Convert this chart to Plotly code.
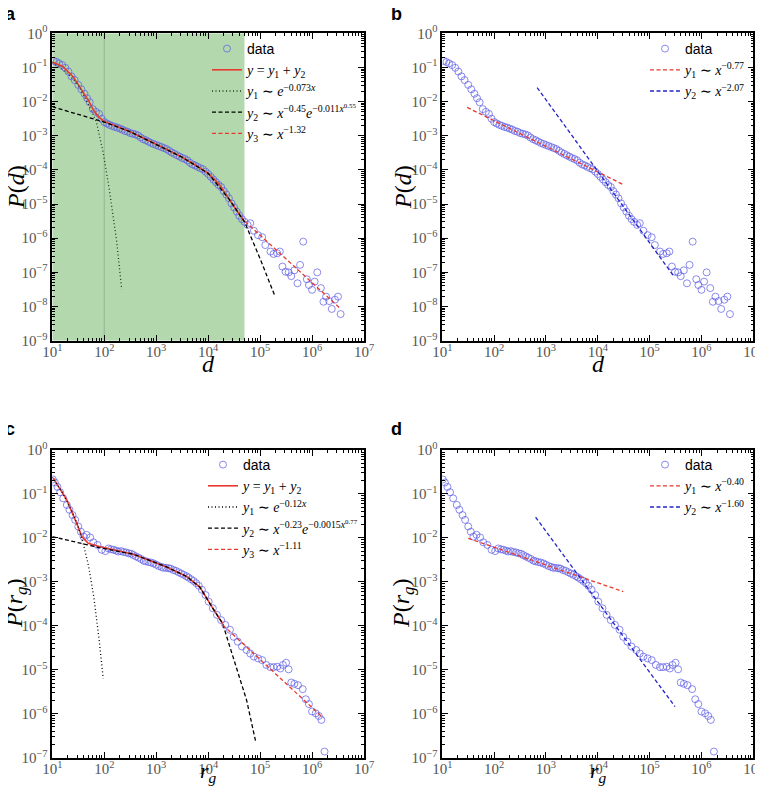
import numpy as np
import plotly.graph_objects as go

# the browser window is 763x787 and the page body keeps its default 8px margin
WIN_W, WIN_H, BODY = 763, 787, 8
W, H = WIN_W - BODY, WIN_H - BODY

# Displacement d data (panels a and b): log10(d) and log10(P(d))
d_logx = [1.03, 1.08, 1.13, 1.19, 1.25, 1.31, 1.37, 1.43, 1.50, 1.56, 1.62, 1.67, 1.72, 1.78,
          1.84, 1.90, 1.95, 2.00, 2.05, 2.10, 2.15, 2.20, 2.25, 2.30, 2.35, 2.40, 2.45, 2.50,
          2.55, 2.60, 2.65, 2.70, 2.75, 2.80, 2.85, 2.90, 2.95, 3.00, 3.05, 3.10, 3.15, 3.20,
          3.25, 3.30, 3.35, 3.40, 3.45, 3.50, 3.55, 3.60, 3.65, 3.70, 3.75, 3.80, 3.85, 3.90,
          3.95, 4.00, 4.05, 4.10, 4.15, 4.20, 4.25, 4.30, 4.35, 4.40, 4.45, 4.50, 4.55, 4.60,
          4.65, 4.70, 4.76, 4.81, 4.88, 4.96, 5.04, 5.10, 5.20, 5.26, 5.33, 5.38, 5.43, 5.49,
          5.55, 5.60, 5.66, 5.72, 5.77, 5.83, 5.90, 5.94, 6.00, 6.05, 6.10, 6.17, 6.22, 6.27,
          6.33, 6.38, 6.44, 6.50, 6.55]
d_logp = [-0.81, -0.84, -0.88, -0.93, -1.01, -1.12, -1.26, -1.37, -1.51, -1.64, -1.77, -1.90,
          -2.02, -2.22, -2.30, -2.36, -2.50, -2.60, -2.64, -2.68, -2.71, -2.74, -2.76, -2.79,
          -2.82, -2.86, -2.88, -2.92, -2.94, -2.96, -2.99, -3.05, -3.10, -3.13, -3.17, -3.21,
          -3.24, -3.27, -3.30, -3.33, -3.36, -3.39, -3.44, -3.49, -3.53, -3.57, -3.61, -3.65,
          -3.68, -3.72, -3.79, -3.84, -3.87, -3.91, -3.95, -3.98, -4.05, -4.12, -4.20, -4.28,
          -4.36, -4.44, -4.50, -4.62, -4.72, -4.83, -4.98, -5.10, -5.22, -5.34, -5.44, -5.52,
          -5.61, -5.56, -5.78, -5.91, -5.97, -6.20, -6.39, -6.46, -6.44, -6.39, -6.83, -6.98,
          -7.00, -7.11, -6.94, -7.32, -6.78, -6.10, -7.20, -7.37, -7.51, -7.27, -7.00, -7.46,
          -7.86, -7.71, -7.84, -8.07, -7.80, -7.71, -8.22]

# Radius of gyration r_g data (panels c and d)
rg_logx = [1.01, 1.05, 1.10, 1.15, 1.21, 1.28, 1.33, 1.39, 1.44, 1.50, 1.55, 1.60, 1.66, 1.73,
           1.79, 1.87, 1.95, 2.02, 2.08, 2.13, 2.18, 2.23, 2.27, 2.32, 2.37, 2.42, 2.47, 2.52,
           2.56, 2.61, 2.66, 2.71, 2.76, 2.80, 2.85, 2.90, 2.95, 3.00, 3.05, 3.10, 3.14, 3.19,
           3.24, 3.28, 3.33, 3.38, 3.43, 3.48, 3.53, 3.58, 3.62, 3.67, 3.72, 3.77, 3.82, 3.88,
           3.95, 4.01, 4.09, 4.17, 4.25, 4.33, 4.42, 4.49, 4.57, 4.65, 4.74, 4.81, 4.88, 4.96,
           5.04, 5.12, 5.20, 5.26, 5.33, 5.39, 5.44, 5.50, 5.55, 5.60, 5.66, 5.73, 5.82, 5.88,
           5.94, 6.00, 6.07, 6.13, 6.18, 6.24]
rg_logp = [-0.67, -0.74, -0.84, -0.96, -1.10, -1.25, -1.36, -1.48, -1.59, -1.74, -1.86, -1.97,
           -1.93, -1.99, -2.10, -2.16, -2.27, -2.30, -2.24, -2.26, -2.27, -2.29, -2.31, -2.30,
           -2.32, -2.33, -2.35, -2.36, -2.39, -2.42, -2.45, -2.48, -2.52, -2.53, -2.55, -2.56,
           -2.58, -2.61, -2.64, -2.66, -2.68, -2.68, -2.69, -2.70, -2.73, -2.75, -2.78, -2.81,
           -2.84, -2.87, -2.90, -2.94, -2.98, -3.03, -3.09, -3.18, -3.30, -3.45, -3.60, -3.75,
           -3.87, -3.98, -4.09, -4.25, -4.36, -4.47, -4.55, -4.63, -4.70, -4.74, -4.78, -4.89,
           -4.94, -4.94, -4.93, -4.97, -4.89, -4.84, -4.99, -5.29, -5.32, -5.35, -5.44, -5.67,
           -5.78, -5.95, -5.99, -6.05, -6.14, -6.86]

# Fitted curves, panel a (log10 x, log10 y)
a_fit_logx = [1.0, 1.2, 1.4, 1.6, 1.7, 1.8, 1.9, 2.0, 2.2, 2.5, 3.0, 3.5, 3.8, 4.0, 4.2, 4.4, 4.6, 4.7]
a_fit_logy = [-0.84, -0.97, -1.27, -1.72, -1.98, -2.27, -2.46, -2.58, -2.70, -2.88, -3.25, -3.63,
              -3.90, -4.10, -4.40, -4.85, -5.30, -5.52]
a_y1_logx = [1.0, 1.3, 1.5, 1.7, 1.85, 1.98, 2.10, 2.24, 2.336]
a_y1_logy = [-0.86, -1.18, -1.52, -2.10, -2.60, -3.50, -4.60, -6.10, -7.50]
a_y2_logx = [1.0, 1.5, 2.0, 2.5, 3.0, 3.5, 4.0, 4.4, 4.7, 5.0, 5.29]
a_y2_logy = [-2.15, -2.37, -2.60, -2.88, -3.25, -3.63, -4.10, -4.85, -5.52, -6.60, -7.71]
a_y3_logx = [4.71, 6.54]
a_y3_logy = [-5.51, -8.05]

# Power-law guides, panel b
b_y1_logx = [1.48, 4.48]
b_y1_logy = [-2.17, -4.42]
b_y2_logx = [2.83, 5.48]
b_y2_logy = [-1.59, -7.14]

# Fitted curves, panel c
c_fit_logx = [1.02, 1.28, 1.47, 1.57, 1.69, 1.92, 2.56, 3.20, 3.59, 3.84, 4.10, 4.28]
c_fit_logy = [-0.64, -1.14, -1.67, -1.97, -2.12, -2.20, -2.37, -2.66, -2.88, -3.12, -3.62, -3.95]
c_y1_logx = [1.0, 1.2, 1.4, 1.5, 1.6, 1.7, 1.8, 1.9, 1.98]
c_y1_logy = [-0.62, -0.98, -1.45, -1.75, -2.15, -2.65, -3.35, -4.30, -5.20]
c_y2_logx = [1.0, 1.5, 1.9, 2.56, 3.20, 3.59, 3.84, 4.10, 4.28, 4.35, 4.48, 4.74, 4.92]
c_y2_logy = [-1.97, -2.10, -2.22, -2.37, -2.66, -2.88, -3.12, -3.62, -3.95, -4.22, -4.70, -5.69, -6.66]
c_y3_logx = [4.28, 6.22]
c_y3_logy = [-3.98, -6.10]

# Power-law guides, panel d
d_y1_logx = [1.50, 4.49]
d_y1_logy = [-2.01, -3.22]
d_y2_logx = [2.80, 5.49]
d_y2_logy = [-1.53, -5.84]

# shaded fit window in panel a
shade_x = [10, 5e4]

SERIF = "Liberation Serif"
SANS = "Liberation Sans"
DATA_COL = "rgba(90,90,230,0.7)"
RED = "#e8392f"


def pw(v):
    return 10 ** np.asarray(v, dtype=float)


def sup(k):
    return "10<sup>%s</sup>" % (str(k).replace("-", "\u2212"))


# window pixel -> paper fraction
def fx(px):
    return (px - BODY) / W


def fy(py):
    return 1 - (py - BODY) / H


def log_axis(dom, rng, anchor, kmin, kmax, standoff):
    major = [10.0 ** k for k in range(kmin, kmax + 1)]
    minor = [m * 10.0 ** k for k in range(kmin, kmax) for m in range(2, 10)]
    return dict(type="log", domain=dom, range=rng, anchor=anchor,
                showline=True, linecolor="black", linewidth=1.5, mirror="ticks",
                ticks="inside", ticklen=6, tickwidth=1, tickcolor="black",
                tickvals=major, ticktext=[sup(k) for k in range(kmin, kmax + 1)],
                minor=dict(tickvals=minor, ticks="inside", ticklen=3, tickwidth=1,
                           tickcolor="black", showgrid=False),
                showgrid=False, zeroline=False, automargin=False,
                ticklabeloverflow="allow", ticklabelstandoff=standoff,
                tickfont=dict(family=SERIF, size=15, color="#555"))


def x_axis(dom, anchor):
    return log_axis(dom, [1, 7], anchor, 1, 7, -3)


def y_axis(dom, anchor, kmin):
    return log_axis(dom, [kmin, 0], anchor, kmin, 0, 0)


fig = go.Figure()

panels = {
    "a": dict(xa="x", ya="y", leg="legend"),
    "b": dict(xa="x2", ya="y2", leg="legend2"),
    "c": dict(xa="x3", ya="y3", leg="legend3"),
    "d": dict(xa="x4", ya="y4", leg="legend4"),
}


def line(p, lx, ly, name, color, dash, width=1.3):
    fig.add_trace(go.Scatter(x=pw(lx), y=pw(ly), mode="lines", name=name,
                             line=dict(color=color, dash=dash, width=width),
                             xaxis=panels[p]["xa"], yaxis=panels[p]["ya"],
                             legend=panels[p]["leg"]))


def data(p, lx, ly):
    fig.add_trace(go.Scatter(x=pw(lx), y=pw(ly), mode="markers",
                             name='<span style="font-family:Liberation Sans">data</span>',
                             marker=dict(symbol="circle-open", size=7, color=DATA_COL,
                                         line=dict(width=1, color=DATA_COL)),
                             xaxis=panels[p]["xa"], yaxis=panels[p]["ya"],
                             legend=panels[p]["leg"]))


# panel a: green fit window and the thin line at 10^2
fig.add_trace(go.Scatter(x=[shade_x[0], shade_x[1], shade_x[1], shade_x[0]],
                         y=[1e-9, 1e-9, 1, 1], fill="toself", mode="none",
                         fillcolor="#b3d8ae", showlegend=False, hoverinfo="skip",
                         xaxis="x", yaxis="y"))
fig.add_trace(go.Scatter(x=[100, 100], y=[1e-9, 1], mode="lines",
                         line=dict(color="#93b893", width=1), showlegend=False,
                         hoverinfo="skip", xaxis="x", yaxis="y"))

data("a", d_logx, d_logp)
line("a", a_fit_logx, a_fit_logy, "<i>y</i> = <i>y</i><sub>1</sub> + <i>y</i><sub>2</sub>", RED, "solid", 1.6)
line("a", a_y1_logx, a_y1_logy, "<i>y</i><sub>1</sub> \u223c <i>e</i><sup>\u22120.073<i>x</i></sup>",
     "#1f3a1f", "1px,2.5px")
line("a", a_y2_logx, a_y2_logy,
     "<i>y</i><sub>2</sub> \u223c <i>x</i><sup>\u22120.45</sup><i>e</i><sup>\u22120.011<i>x</i><sup>0.55</sup></sup>",
     "black", "4px,2.5px")
line("a", a_y3_logx, a_y3_logy, "<i>y</i><sub>3</sub> \u223c <i>x</i><sup>\u22121.32</sup>", RED, "4px,2.5px")

data("b", d_logx, d_logp)
line("b", b_y1_logx, b_y1_logy, "<i>y</i><sub>1</sub> \u223c <i>x</i><sup>\u22120.77</sup>", RED, "4px,2.5px")
line("b", b_y2_logx, b_y2_logy, "<i>y</i><sub>2</sub> \u223c <i>x</i><sup>\u22122.07</sup>", "#2525c8", "4px,2.5px")

data("c", rg_logx, rg_logp)
line("c", c_fit_logx, c_fit_logy, "<i>y</i> = <i>y</i><sub>1</sub> + <i>y</i><sub>2</sub>", RED, "solid", 1.6)
line("c", c_y1_logx, c_y1_logy, "<i>y</i><sub>1</sub> \u223c <i>e</i><sup>\u22120.12<i>x</i></sup>",
     "black", "1px,2.5px")
line("c", c_y2_logx, c_y2_logy,
     "<i>y</i><sub>2</sub> \u223c <i>x</i><sup>\u22120.23</sup><i>e</i><sup>\u22120.0015<i>x</i><sup>0.77</sup></sup>",
     "black", "4px,2.5px")
line("c", c_y3_logx, c_y3_logy, "<i>y</i><sub>3</sub> \u223c <i>x</i><sup>\u22121.11</sup>", RED, "4px,2.5px")

data("d", rg_logx, rg_logp)
line("d", d_y1_logx, d_y1_logy, "<i>y</i><sub>1</sub> \u223c <i>x</i><sup>\u22120.40</sup>", RED, "4px,2.5px")
line("d", d_y2_logx, d_y2_logy, "<i>y</i><sub>2</sub> \u223c <i>x</i><sup>\u22121.60</sup>", "#2525c8", "4px,2.5px")

# panel geometry in window pixels
XL, XR = (52.3, 364.0), (442.3, 753.3)
YT, YB = (33.3, 340.7), (450.0, 757.7)


def xdom(p):
    return [fx(p[0]), fx(p[1])]


def ydom(p):
    return [fy(p[1]), fy(p[0])]


def legend_at(x, top, anchor):
    return dict(x=fx(x), y=fy(top), xanchor=anchor, yanchor="top",
                bgcolor="rgba(0,0,0,0)", borderwidth=0, itemwidth=30,
                font=dict(family=SERIF, size=14, color="black"))


fig.update_layout(
    width=W, height=H, margin=dict(l=0, r=0, t=0, b=0, autoexpand=False),
    paper_bgcolor="white", plot_bgcolor="white",
    xaxis=x_axis(xdom(XL), "y"),
    yaxis=y_axis(ydom(YT), "x", -9),
    xaxis2=x_axis(xdom(XR), "y2"),
    yaxis2=y_axis(ydom(YT), "x2", -9),
    xaxis3=x_axis(xdom(XL), "y3"),
    yaxis3=y_axis(ydom(YB), "x3", -7),
    xaxis4=x_axis(xdom(XR), "y4"),
    yaxis4=y_axis(ydom(YB), "x4", -7),
    legend=legend_at(207, 33, "left"),
    legend2=legend_at(752, 33, "right"),
    legend3=legend_at(203, 449, "left"),
    legend4=legend_at(752, 449, "right"),
    showlegend=True,
)

# panel letters and axis titles (window pixels)
notes = [
    ("<b>a</b>", 10, 14, 18, SANS, 0),
    ("<b>b</b>", 396, 14, 18, SANS, 0),
    ("<b>c</b>", 10, 429, 18, SANS, 0),
    ("<b>d</b>", 396, 429, 18, SANS, 0),
    ("<i>d</i>", 208, 364, 24, SERIF, 0),
    ("<i>d</i>", 598, 364, 24, SERIF, 0),
    ("<i>r</i><sub><i>g</i></sub>", 208, 772, 22, SERIF, 0),
    ("<i>r</i><sub><i>g</i></sub>", 598, 772, 22, SERIF, 0),
    ("<i>P</i>(<i>d</i>)", 16, 187, 24, SERIF, -90),
    ("<i>P</i>(<i>d</i>)", 403, 187, 24, SERIF, -90),
    ("<i>P</i>(<i>r</i><sub><i>g</i></sub>)", 16, 604, 24, SERIF, -90),
    ("<i>P</i>(<i>r</i><sub><i>g</i></sub>)", 403, 604, 24, SERIF, -90),
]
for text, x, y, size, fam, ang in notes:
    fig.add_annotation(text=text, x=fx(x), y=fy(y), xref="paper", yref="paper",
                       showarrow=False, textangle=ang, xanchor="center", yanchor="middle",
                       font=dict(family=fam, size=size, color="black"))

fig.write_html("out.html")
